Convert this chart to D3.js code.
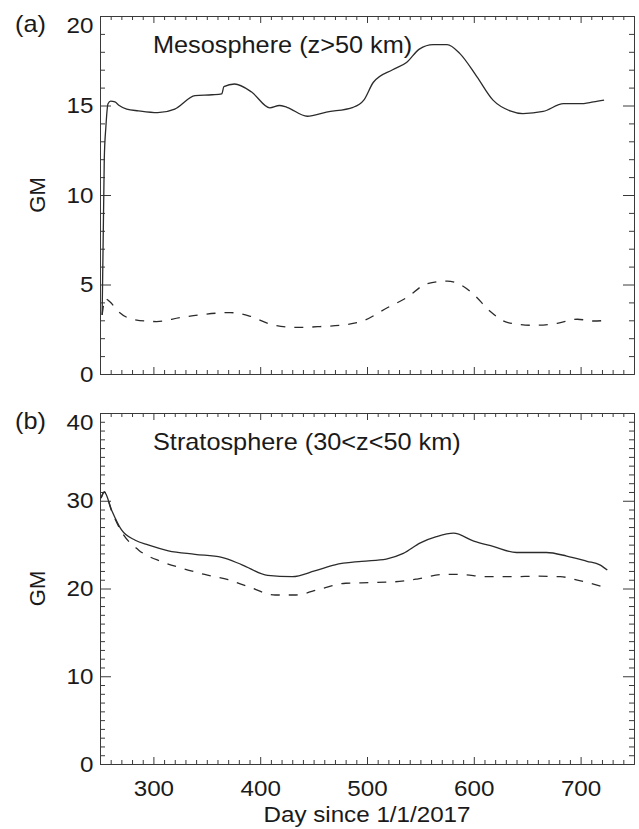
<!DOCTYPE html>
<html>
<head>
<meta charset="utf-8">
<script src="https://cdn.jsdelivr.net/npm/d3@7"></script>
<style>
  html, body { margin: 0; padding: 0; background: #fff; }
  svg { display: block; }
  text { font-family: "Liberation Sans", Arial, Helvetica, sans-serif; fill: #1a1a1a; }
</style>
</head>
<body>
<svg id="chart" width="639" height="829"></svg>
<script>
// ---------------- DATA ----------------
const xDomain = [250, 750];
const xTicks = [300, 400, 500, 600, 700];

// Panel (a) Mesosphere (z>50 km)
const mesoTitle = "Mesosphere (z>50 km)";
const mesoYTicks = [0, 5, 10, 15, 20];
const mesoSolidDays = [252, 254, 255.5, 257.5, 260, 264, 268, 275, 286, 304, 320, 339, 355, 364, 366, 376, 392, 409, 418, 425, 444, 462, 487, 497, 506, 524, 537, 549, 562, 575, 587, 603, 618, 634, 646, 665, 684, 699, 712, 722];
const mesoSolidVals = [3.3, 12.0, 13.8, 15.1, 15.25, 15.2, 15.0, 14.8, 14.7, 14.6, 14.8, 15.55, 15.6, 15.65, 16.05, 16.2, 15.75, 14.87, 15.0, 14.9, 14.4, 14.63, 14.9, 15.3, 16.3, 17.0, 17.4, 18.15, 18.4, 18.4, 17.9, 16.6, 15.3, 14.7, 14.55, 14.67, 15.1, 15.1, 15.2, 15.3];
const mesoDashDays = [252, 255, 259, 267, 281, 303, 325, 347, 372, 390, 412, 434, 456, 478, 496, 519, 537, 556, 575, 587, 600, 615, 632, 656, 678, 697, 712, 725];
const mesoDashVals = [3.3, 4.2, 4.05, 3.5, 3.05, 2.93, 3.15, 3.33, 3.43, 3.24, 2.74, 2.6, 2.65, 2.74, 2.96, 3.7, 4.26, 5.04, 5.19, 5.0, 4.44, 3.52, 2.87, 2.72, 2.83, 3.06, 2.96, 3.0];

// Panel (b) Stratosphere (30<z<50 km)
const stratTitle = "Stratosphere (30<z<50 km)";
const stratYTicks = [0, 10, 20, 30, 40];
const stratSolidDays = [251, 254, 261, 270, 283, 295, 314, 339, 364, 383, 407, 430, 451, 470, 495, 518, 534, 550, 565, 581, 600, 618, 640, 668, 687, 706, 718, 725];
const stratSolidVals = [30.3, 31.0, 28.9, 26.7, 25.5, 24.96, 24.3, 23.9, 23.55, 22.7, 21.5, 21.35, 22.0, 22.7, 23.1, 23.36, 24.0, 25.2, 25.9, 26.3, 25.4, 24.8, 24.1, 24.1, 23.7, 23.1, 22.7, 22.1];
const stratDashDays = [251, 254, 261, 270, 286, 308, 327, 348, 370, 389, 414, 432, 458, 480, 503, 524, 547, 572, 587, 612, 637, 659, 681, 699, 724];
const stratDashVals = [30.3, 31.0, 28.8, 26.5, 24.4, 23.05, 22.3, 21.6, 21.0, 20.2, 19.26, 19.26, 20.0, 20.6, 20.67, 20.75, 21.08, 21.6, 21.6, 21.35, 21.35, 21.4, 21.35, 20.9, 20.1];

const yLabel = "GM";
const xLabel = "Day since 1/1/2017";

// ---------------- LAYOUT ----------------
const svg = d3.select("#chart");
const left = 100, right = 634;
const SX = 1.1;          // horizontal stretch of the original typography
const FS = 22;           // font size
const axisColor = "#3a3a3a";
const lineColor = "#2b2b2b";

const x = d3.scaleLinear().domain(xDomain).range([left, right]);

const panels = [
  { tag: "(a)", title: mesoTitle, top: 16, bottom: 374, yMax: 20, yTicks: mesoYTicks, yMinor: 1,
    solid: mesoSolidDays.map((d, i) => [d, mesoSolidVals[i]]),
    dash: mesoDashDays.map((d, i) => [d, mesoDashVals[i]]), xLabels: false },
  { tag: "(b)", title: stratTitle, top: 413, bottom: 764, yMax: 40, yTicks: stratYTicks, yMinor: 1,
    solid: stratSolidDays.map((d, i) => [d, stratSolidVals[i]]),
    dash: stratDashDays.map((d, i) => [d, stratDashVals[i]]), xLabels: true }
];

function styleAxis(g) {
  g.selectAll("path.domain").attr("stroke", axisColor).attr("stroke-width", 1);
  g.selectAll(".tick line").attr("stroke", axisColor).attr("stroke-width", 1);
  g.selectAll("text").attr("font-size", FS).attr("font-family", null).attr("fill", "#1a1a1a");
}

panels.forEach(p => {
  const y = d3.scaleLinear().domain([0, p.yMax]).range([p.bottom, p.top]);
  const h = p.bottom - p.top, w = right - left;
  const xMaj = Math.round(h * 0.02), xMin = Math.round(h * 0.01);
  const yMaj = Math.round(w * 0.02), yMin = Math.round(w * 0.01);
  const minorX = d3.range(xDomain[0], xDomain[1] + 1, 10).filter(v => v % 100 !== 0);
  const minorY = d3.range(0, p.yMax + 0.001, p.yMinor).filter(v => !p.yTicks.includes(v));

  const g = svg.append("g");

  // minor ticks (all four sides)
  g.append("g").attr("transform", `translate(0,${p.bottom})`)
    .call(d3.axisBottom(x).tickValues(minorX).tickSize(-xMin).tickSizeOuter(0).tickFormat(""))
    .call(styleAxis);
  g.append("g").attr("transform", `translate(0,${p.top})`)
    .call(d3.axisTop(x).tickValues(minorX).tickSize(-xMin).tickSizeOuter(0).tickFormat(""))
    .call(styleAxis);
  g.append("g").attr("transform", `translate(${left},0)`)
    .call(d3.axisLeft(y).tickValues(minorY).tickSize(-yMin).tickSizeOuter(0).tickFormat(""))
    .call(styleAxis);
  g.append("g").attr("transform", `translate(${right},0)`)
    .call(d3.axisRight(y).tickValues(minorY).tickSize(-yMin).tickSizeOuter(0).tickFormat(""))
    .call(styleAxis);

  // major ticks
  const bottomAx = g.append("g").attr("transform", `translate(0,${p.bottom})`)
    .call(d3.axisBottom(x).tickValues(xTicks).tickSize(-xMaj).tickSizeOuter(0).tickPadding(16)
      .tickFormat(p.xLabels ? d3.format("d") : ""))
    .call(styleAxis);
  bottomAx.selectAll("text").attr("transform", `scale(${SX},1)`).attr("dy", "0.71em");

  g.append("g").attr("transform", `translate(0,${p.top})`)
    .call(d3.axisTop(x).tickValues(xTicks).tickSize(-xMaj).tickSizeOuter(0).tickFormat(""))
    .call(styleAxis);

  const leftAx = g.append("g").attr("transform", `translate(${left},0)`)
    .call(d3.axisLeft(y).tickValues(p.yTicks).tickSize(-yMaj).tickSizeOuter(0).tickPadding(6).tickFormat(d3.format("d")))
    .call(styleAxis);
  leftAx.selectAll("text").attr("transform", `scale(${SX},1)`);
  leftAx.selectAll(".tick").filter(d => d === p.yMax).select("text").attr("y", 9);

  g.append("g").attr("transform", `translate(${right},0)`)
    .call(d3.axisRight(y).tickValues(p.yTicks).tickSize(-yMaj).tickSizeOuter(0).tickFormat(""))
    .call(styleAxis);

  // data lines
  const line = d3.line().x(d => x(d[0])).y(d => y(d[1])).curve(d3.curveMonotoneX);
  g.append("path").datum(p.solid).attr("d", line)
    .attr("fill", "none").attr("stroke", lineColor).attr("stroke-width", 1.3);
  g.append("path").datum(p.dash).attr("d", line)
    .attr("fill", "none").attr("stroke", lineColor).attr("stroke-width", 1.3)
    .attr("stroke-dasharray", "9,9");

  // panel tag
  g.append("text").attr("transform", `translate(15,${p.top + 16}) scale(${SX},1)`)
    .attr("font-size", FS + 1).text(p.tag);
  // title
  g.append("text").attr("transform", `translate(153,${p.top + 37}) scale(${SX},1)`)
    .attr("font-size", FS + 1).text(p.title);
  // y label
  g.append("text").attr("transform", `translate(45,${(p.top + p.bottom) / 2}) rotate(-90)`)
    .attr("text-anchor", "middle").attr("font-size", FS).text(yLabel);
});

svg.append("text").attr("transform", `translate(${(left + right) / 2},822) scale(${SX},1)`)
  .attr("text-anchor", "middle").attr("font-size", FS).text(xLabel);
</script>
</body>
</html>
